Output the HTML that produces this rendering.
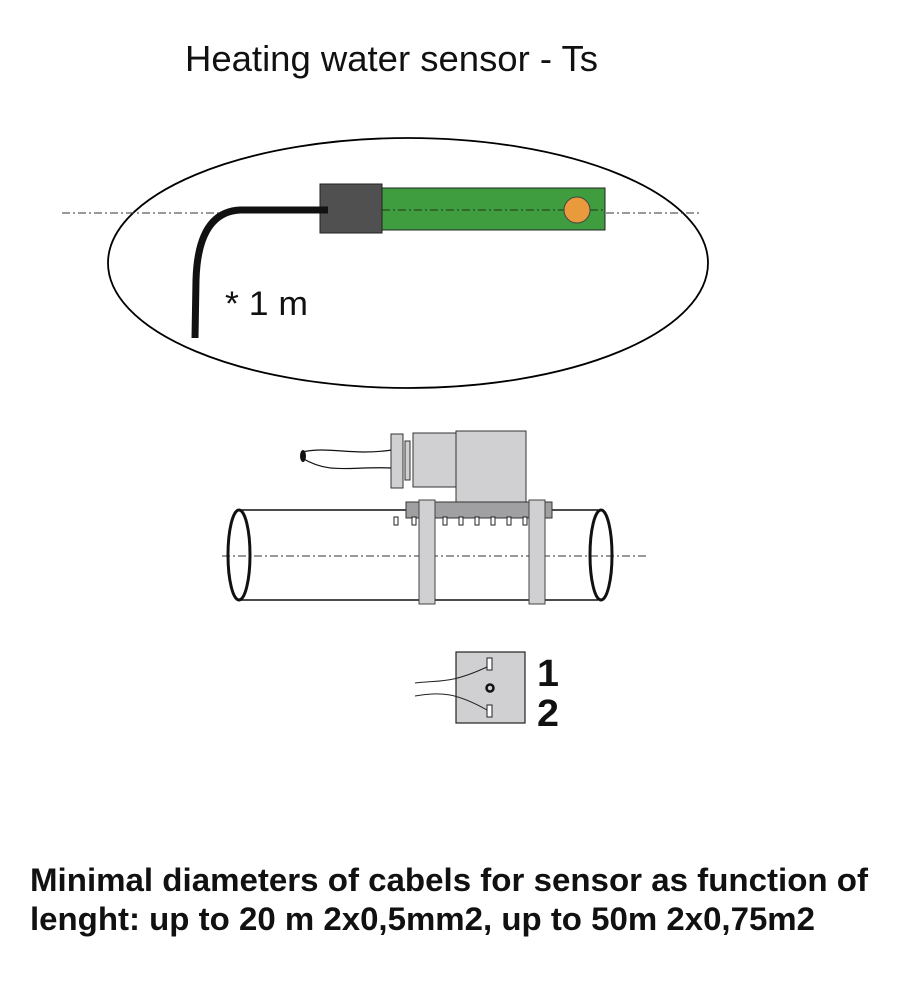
<!DOCTYPE html>
<html><head><style>body{margin:0;background:#fff}svg{display:block}</style></head><body>
<svg width="900" height="999" viewBox="0 0 900 999" xmlns="http://www.w3.org/2000/svg" font-family="Liberation Sans, sans-serif">
<text x="185" y="71" font-size="36" textLength="413" lengthAdjust="spacingAndGlyphs" fill="#111">Heating water sensor - Ts</text>
<ellipse cx="408" cy="263" rx="300" ry="125" fill="none" stroke="#000" stroke-width="1.8"/>
<line x1="62" y1="213" x2="700" y2="213" stroke="#333" stroke-width="1" stroke-dasharray="8,3,2,3"/>
<rect x="320" y="184" width="62" height="49" fill="#505050" stroke="#222"/>
<rect x="382" y="188" width="223" height="42" fill="#3f9c3f" stroke="#222"/>
<line x1="382" y1="210" x2="605" y2="210" stroke="#1a3a1a" stroke-width="1" stroke-dasharray="8,3,2,3"/>
<circle cx="577" cy="210" r="13" fill="#e89a3c" stroke="#444"/>
<path d="M328 210 L240 210 Q198 212 196 280 L195 338" fill="none" stroke="#111" stroke-width="7"/>
<text x="225" y="315" font-size="34" textLength="83" lengthAdjust="spacingAndGlyphs" fill="#111">* 1 m</text>
<path d="M302 452 C330 446 350 456 392 450" fill="none" stroke="#111" stroke-width="1.2"/>
<path d="M302 458 C330 475 350 466 392 468" fill="none" stroke="#111" stroke-width="1.2"/>
<ellipse cx="303" cy="456" rx="3" ry="6" fill="#111"/>
<rect x="391" y="434" width="12" height="54" fill="#d0d0d2" stroke="#333"/>
<rect x="405" y="441" width="5" height="39" fill="#d0d0d2" stroke="#333"/>
<rect x="413" y="433" width="43" height="54" fill="#d0d0d2" stroke="#333"/>
<rect x="456" y="431" width="70" height="71" fill="#d0d0d2" stroke="#333"/>
<line x1="240" y1="510" x2="598" y2="510" stroke="#111" stroke-width="1.5"/>
<line x1="240" y1="600" x2="598" y2="600" stroke="#111" stroke-width="1.5"/>
<line x1="222" y1="556" x2="647" y2="556" stroke="#333" stroke-width="1" stroke-dasharray="8,3,2,3"/>
<ellipse cx="239" cy="555" rx="11" ry="45" fill="none" stroke="#111" stroke-width="3"/>
<ellipse cx="601" cy="555" rx="11" ry="45" fill="none" stroke="#111" stroke-width="3"/>
<rect x="406" y="502" width="146" height="16" fill="#a0a0a2" stroke="#333"/>
<g fill="#fff" stroke="#222">
<rect x="394" y="517" width="4" height="8"/><rect x="412" y="517" width="4" height="8"/>
<rect x="443" y="517" width="4" height="8"/><rect x="459" y="517" width="4" height="8"/>
<rect x="475" y="517" width="4" height="8"/><rect x="491" y="517" width="4" height="8"/>
<rect x="507" y="517" width="4" height="8"/><rect x="523" y="517" width="4" height="8"/>
</g>
<rect x="419" y="500" width="16" height="104" fill="#d0d0d2" stroke="#444"/>
<rect x="529" y="500" width="16" height="104" fill="#d0d0d2" stroke="#444"/>
<rect x="456" y="652" width="69" height="71" fill="#d0d0d2" stroke="#222" stroke-width="1.2"/>
<rect x="487" y="658" width="5" height="12" fill="#fff" stroke="#222"/>
<rect x="487" y="705" width="5" height="12" fill="#fff" stroke="#222"/>
<circle cx="490" cy="688" r="3.5" fill="none" stroke="#111" stroke-width="2.5"/>
<path d="M415 683 C440 680 450 684 487 667" fill="none" stroke="#222" stroke-width="1"/>
<path d="M415 696 C440 692 455 692 487 710" fill="none" stroke="#222" stroke-width="1"/>
<text x="537" y="686" font-size="38" font-weight="bold" textLength="22" lengthAdjust="spacingAndGlyphs" fill="#111">1</text>
<text x="537" y="726" font-size="38" font-weight="bold" textLength="22" lengthAdjust="spacingAndGlyphs" fill="#111">2</text>
<text x="30" y="891" font-size="32" font-weight="bold" textLength="838" lengthAdjust="spacingAndGlyphs" fill="#111">Minimal diameters of cabels for sensor as function of</text>
<text x="30" y="930" font-size="32" font-weight="bold" textLength="785" lengthAdjust="spacingAndGlyphs" fill="#111">lenght: up to 20 m 2x0,5mm2, up to 50m 2x0,75m2</text>
</svg>
</body></html>
